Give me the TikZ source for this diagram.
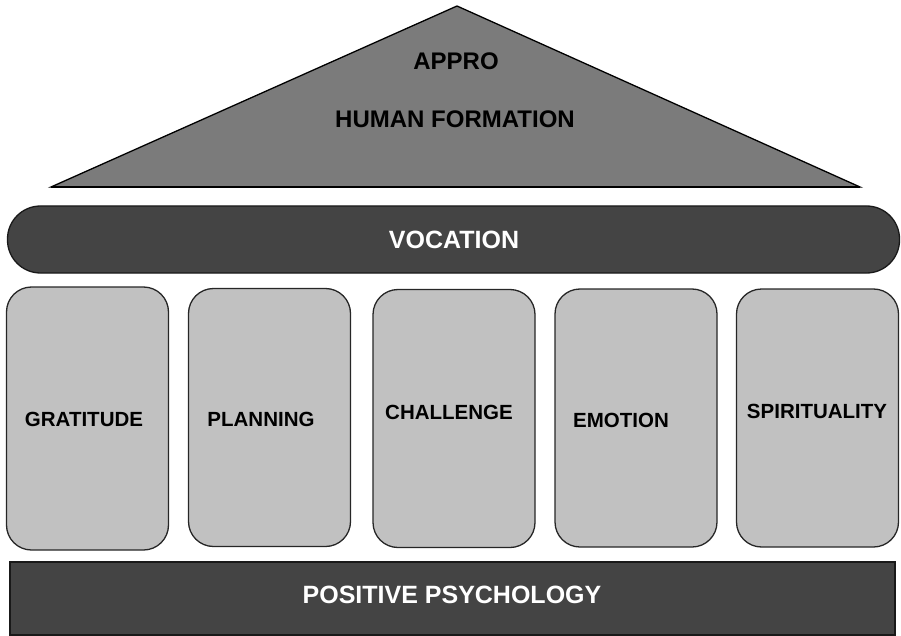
\documentclass[tikz,border=0pt]{standalone}
\usepackage{fontspec}
\setmainfont{Liberation Sans}
\definecolor{roofgray}{HTML}{7B7B7B}
\definecolor{bandgray}{HTML}{444444}
\definecolor{pillargray}{HTML}{C1C1C1}
\tikzset{
  px/.style={x=1pt, y=-1pt},
  roof/.style={fill=roofgray, draw=black, line width=1.3pt, line join=miter},
  band/.style={fill=bandgray, draw=black!90, line width=1.3pt, inner sep=0pt},
  pillar/.style={fill=pillargray, draw=black!85, line width=1.3pt, rounded corners=25pt,
                 minimum width=162pt, minimum height=258pt, inner sep=0pt},
  rooftext/.style={font=\bfseries\fontsize{24}{24}\selectfont, text=black},
  bandtext/.style={font=\bfseries\fontsize{25}{25}\selectfont, text=white},
  pillartext/.style={font=\bfseries\fontsize{20.5}{20.5}\selectfont, text=black},
}
\begin{document}
\begin{tikzpicture}[px]
  \useasboundingbox (0,0) rectangle (901,636);

  % --- roof (triangle) ---
  \coordinate (apex) at (457,6);
  \coordinate (eaveL) at (51,187);
  \coordinate (eaveR) at (860,187);
  \draw[roof] (apex) -- (eaveR) -- (eaveL) -- cycle;
  \draw[black, line width=2pt] (eaveL) -- (eaveR);
  \node[rooftext] (appro) at (456,61) {APPRO};
  \node[rooftext] (human) at (455,119) {HUMAN FORMATION};

  % --- vocation band ---
  \node[band, rounded corners=33pt, minimum width=892pt, minimum height=67pt]
       (vocation) at (453.5,239.5) {};
  \node[bandtext] (vocationtext) at (454,240) {VOCATION};

  % --- five pillars ---
  \node[pillar, minimum height=263pt] (gratitude) at (87.5,418.5) {};
  \node[pillar] (planning)    at (269.5,417.5) {};
  \node[pillar] (challenge)   at (454,418.5) {};
  \node[pillar] (emotion)     at (636,418) {};
  \node[pillar] (spiritual)   at (817.5,418) {};
  \node[pillartext] at (84,419)  {GRATITUDE};
  \node[pillartext] at (261,419) {PLANNING};
  \node[pillartext] at (449,412) {CHALLENGE};
  \node[pillartext] at (621,420) {EMOTION};
  \node[pillartext] at (817,411) {SPIRITUALITY};

  % --- foundation ---
  \node[band, minimum width=885pt, minimum height=73pt] (positive) at (452.5,598.5) {};
  \node[bandtext] (positivetext) at (452,595) {POSITIVE PSYCHOLOGY};
\end{tikzpicture}
\end{document}
